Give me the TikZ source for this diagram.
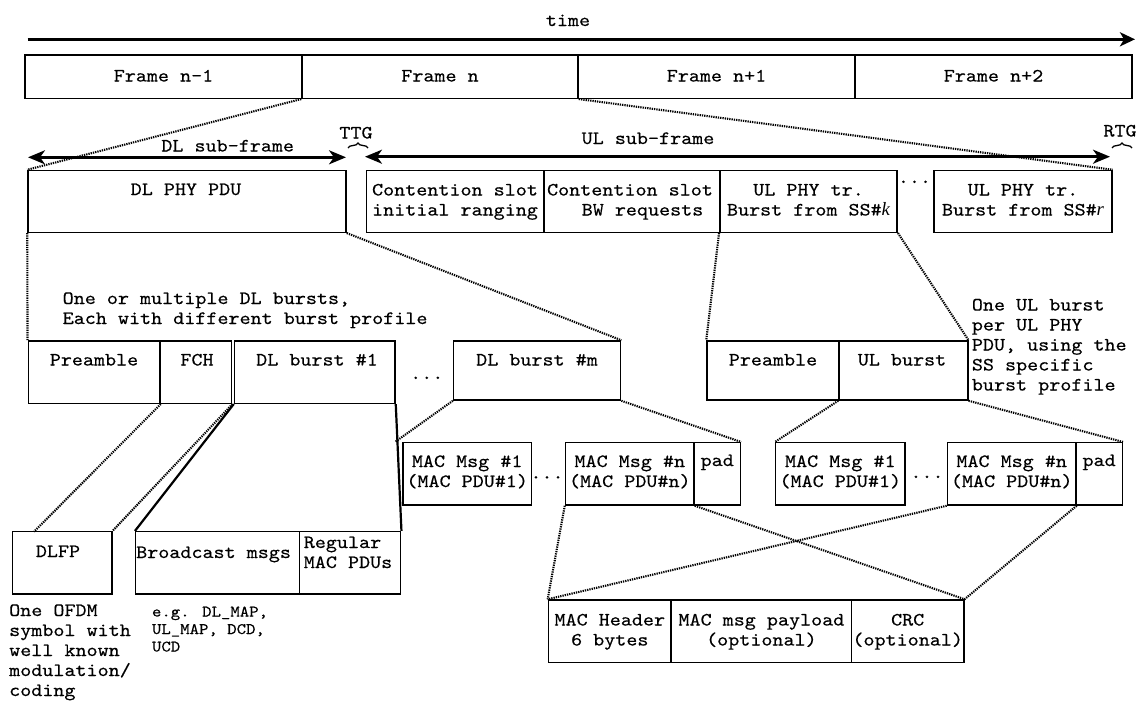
\documentclass[tikz,border=0pt]{standalone}
\usepackage{fontspec}
\newfontfamily\cour{lmmono10-regular.otf}[FakeStretch=1.12,FakeBold=0.35]
\newfontfamily\tim{Liberation Serif}
\usetikzlibrary{arrows.meta,decorations.pathreplacing,fit,calc}
\newcommand\lns[2]{\begin{tabular}[t]{@{}#1@{}}#2\end{tabular}}
\begin{document}
\begin{tikzpicture}[x=1pt,y=-1pt,
 box/.style={draw, line width=1.5pt, inner sep=0pt},
 txt/.style={font=\cour\fontsize{18.8}{20}\selectfont, inner sep=0pt, anchor=base},
 ltxt/.style={txt, anchor=base west},
 sml/.style={font=\cour\fontsize{16}{17.5}\selectfont, inner sep=0pt, anchor=base west},
 dotl/.style={line width=2.1pt, dash pattern=on 1.3pt off 1pt},
 solc/.style={line width=2.2pt},
 arr/.style={line width=2.5pt, {Stealth[length=17pt,width=14pt,inset=5pt]}-{Stealth[length=17pt,width=14pt,inset=5pt]}},
 tarr/.style={line width=2.8pt, -{Stealth[length=15pt,width=14pt,inset=4pt]}},
 brc/.style={line width=1.3pt, decorate, decoration={brace, amplitude=5pt}},
]
\useasboundingbox (0,0) rectangle (1136,702);

% time axis
\node[txt] (tm) at (568,26) {time};
\coordinate (ta) at (27.5,39.3);
\coordinate (tb) at (1135,39.3);
\draw[tarr] (ta) -- (tb);

% frames
\node[box, fit={(25,55) (302,98.3)}] (fr1) {};
\node[box, fit={(302,55) (578,98.3)}] (fr2) {};
\node[box, fit={(578,55) (855,98.3)}] (fr3) {};
\node[box, fit={(855,55) (1132,98.3)}] (fr4) {};
\node[txt] (fr1t) at (163.5,81.5) {Frame n-1};
\node[txt] (fr2t) at (440,81.5) {Frame n};
\node[txt] (fr3t) at (716.5,81.5) {Frame n+1};
\node[txt] (fr4t) at (993.5,81.5) {Frame n+2};

% sub-frame arrows
\coordinate (dla) at (28,157.3);
\coordinate (dlb) at (346,157.3);
\coordinate (ula) at (365,156.7);
\coordinate (ulz) at (1110,156.7);
\draw[arr] (dla) -- (dlb);
\draw[arr] (ula) -- (ulz);
\node[txt] (dlst) at (227.7,151.5) {DL sub-frame};
\node[txt] (ulst) at (648,144) {UL sub-frame};
\node[txt] (ttg) at (356,138.5) {TTG};
\node[txt] (rtg) at (1120,136.5) {RTG};
\coordinate (ttga) at (348,148);
\coordinate (ttgb) at (368,148);
\coordinate (rtga) at (1112,148);
\coordinate (rtgb) at (1132,148);
\draw[brc] (ttga) -- (ttgb);
\draw[brc] (rtga) -- (rtgb);

% top row
\node[box, fit={(28,170.5) (346,232.3)}] (dlphy) {};
\node[box, fit={(366.5,170.5) (544,232.3)}] (cs1) {};
\node[box, fit={(544,170.5) (719.8,232.3)}] (cs2) {};
\node[box, fit={(719.8,170.5) (897.2,232.3)}] (ulk) {};
\node[box, fit={(934,170.5) (1112,232.3)}] (ulr) {};
\node[txt] (dlphyt) at (186,195) {DL PHY PDU};
\node[txt] (cs1t) at (455,195.5) {\lns{c}{Contention slot\\initial ranging}};
\node[txt] (cs2t) at (630,195.5) {\lns{c}{Contention slot\\\hspace*{25pt}BW requests}};
\node[txt] (ulkt) at (808.5,195.5) {\lns{c}{UL PHY tr.\\Burst from SS\#{\tim\itshape k}}};
\node[txt] (ulrt) at (1023,195.5) {\lns{c}{UL PHY tr.\\Burst from SS\#{\tim\itshape r}}};
\node[txt] (dt1) at (914.5,183) {...};

\draw[dotl] (fr2.south west) -- (dlphy.north west);
\draw[dotl] (fr2.south east) -- (ulr.north east);

% middle notes
\node[ltxt] (dlnote) at (62.5,304) {\lns{l}{One or multiple DL bursts,\\Each with different burst profile}};
\node[ltxt] (ulnote) at (971.7,310.5) {\lns{l}{One UL burst\\per UL PHY\\PDU, using the\\SS specific\\burst profile}};

% DL row
\node[box, fit={(28.3,341) (160,403.3)}] (pre) {};
\node[box, fit={(160,341) (231.7,403.3)}] (fch) {};
\node[box, fit={(234.5,341) (395,403.3)}] (dlb1) {};
\node[box, fit={(453.6,341) (620.6,400)}] (dlbm) {};
\node[txt] (pret) at (94,365.5) {Preamble};
\node[txt] (fcht) at (197,365.5) {FCH};
\node[txt] (dlb1t) at (317,365.5) {DL burst \#1};
\node[txt] (dlbmt) at (537,365.5) {DL burst \#m};
\node[txt] (dt2) at (426.8,379) {...};

% UL row
\node[box, fit={(707,341) (839,400)}] (ulpre) {};
\node[box, fit={(839,341) (967.8,400)}] (ulb) {};
\node[txt] (ulpret) at (773,365.5) {Preamble};
\node[txt] (ulbt) at (902,365.5) {UL burst};

\draw[dotl] (dlphy.south west) -- (pre.north west);
\draw[dotl] (dlphy.south east) -- (dlbm.north east);
\draw[dotl] (ulk.south west) -- (ulpre.north west);
\draw[dotl] (ulk.south east) -- (ulb.north east);

% MAC message rows
\node[box, fit={(402.9,442.7) (531.4,505)}] (m1) {};
\node[box, fit={(565.5,442.7) (694,505)}] (mn) {};
\node[box, fit={(694,442.7) (740.3,505)}] (pad1) {};
\node[box, fit={(775.7,442.7) (904.9,505)}] (um1) {};
\node[box, fit={(947.4,442.7) (1075.9,505)}] (umn) {};
\node[box, fit={(1075.9,442.7) (1122.3,505)}] (upad) {};
\node[txt] (m1t) at (467.2,467) {\lns{c}{MAC Msg \#1\\(MAC PDU\#1)}};
\node[txt] (mnt) at (629.8,467) {\lns{c}{MAC Msg \#n\\(MAC PDU\#n)}};
\node[txt] (pad1t) at (717.2,466) {pad};
\node[txt] (um1t) at (840.3,467) {\lns{c}{MAC Msg \#1\\(MAC PDU\#1)}};
\node[txt] (umnt) at (1011.7,467) {\lns{c}{MAC Msg \#n\\(MAC PDU\#n)}};
\node[txt] (upadt) at (1099.1,466) {pad};
\node[txt] (dt3) at (547,478.5) {...};
\node[txt] (dt4) at (927,478) {...};

\coordinate (m1in) at (395,442);
\draw[dotl] (dlbm.south west) -- (m1in);
\draw[dotl] (dlbm.south east) -- (pad1.north east);
\draw[dotl] (ulb.south west) -- (um1.north west);
\draw[dotl] (ulb.south east) -- (upad.north east);

% DLFP row
\node[box, fit={(12.5,531.7) (111.8,594)}] (dlfp) {};
\node[box, fit={(135.7,531.7) (299.3,594)}] (bc) {};
\node[box, fit={(299.3,531.7) (400.7,594)}] (reg) {};
\node[txt] (dlfpt) at (58,557) {DLFP};
\node[ltxt] (bct) at (136,558) {Broadcast msgs};
\node[ltxt] (regt) at (303.6,548) {\lns{l}{Regular\\MAC PDUs}};
\node[ltxt] (ofdm) at (9,616) {\lns{l}{One OFDM\\symbol with\\well known\\modulation/\\coding}};
\node[sml] (eg) at (151.8,616.5) {\lns{l}{e.g. DL\_MAP,\\UL\_MAP, DCD,\\UCD}};

\coordinate (dlfpin) at (34,531.7);
\draw[dotl] (pre.south east) -- (dlfpin);
\draw[dotl] (fch.south east) -- (dlfp.north east);
\draw[solc] (dlb1.south west) -- (bc.north west);
\draw[solc] (dlb1.south east) -- (reg.north east);

% MAC PDU row
\node[box, fit={(548.4,600) (671.1,662.7)}] (hdr) {};
\node[box, fit={(671.1,600) (851.7,662.7)}] (pay) {};
\node[box, fit={(851.7,600) (963.8,662.7)}] (crc) {};
\node[txt] (hdrt) at (609.8,625.5) {\lns{c}{MAC Header\\6 bytes}};
\node[txt] (payt) at (761.4,625.5) {\lns{c}{MAC msg payload\\(optional)}};
\node[txt] (crct) at (907.7,625.5) {\lns{c}{CRC\\(optional)}};

\draw[dotl] (mn.south west) -- (hdr.north west);
\draw[dotl] (mn.south east) -- (crc.north east);
\draw[dotl] (umn.south west) -- (hdr.north west);
\draw[dotl] (umn.south east) -- (crc.north east);
\end{tikzpicture}
\end{document}
